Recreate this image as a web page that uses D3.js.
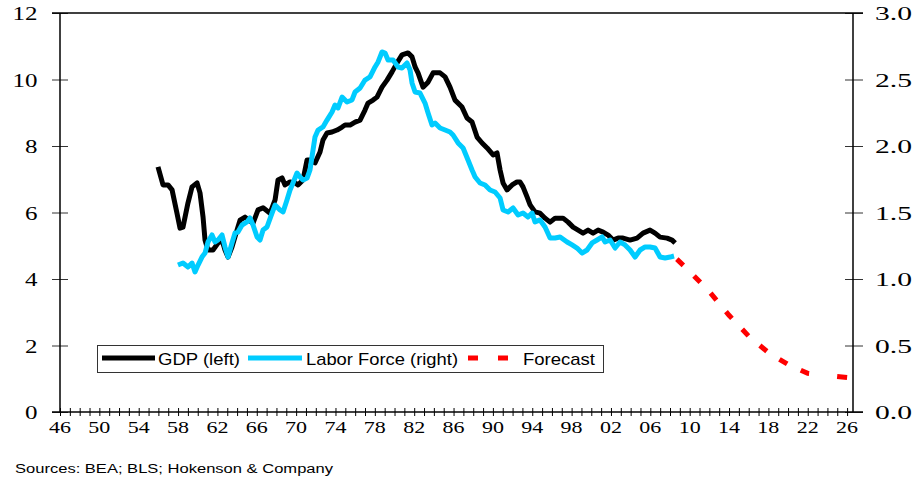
<!DOCTYPE html>
<html>
<head>
<meta charset="utf-8">
<script src="https://cdn.jsdelivr.net/npm/d3@7"></script>
<style>
  body { margin: 0; background: #fff; }
  svg { display: block; }
</style>
</head>
<body>
<div id="chart"></div>
<script>
// values (year, value)
const gdpYears = [1955.96, 1956.47, 1956.98, 1957.39, 1957.89, 1958.2, 1958.5, 1959.01, 1959.42, 1959.93, 1960.23, 1960.54, 1960.74, 1961.04, 1961.55, 1962.06, 1962.47, 1962.77, 1963.08, 1963.48, 1963.99, 1964.3, 1964.81, 1965.62, 1966.13, 1966.64, 1967.35, 1967.86, 1968.16, 1968.57, 1968.87, 1969.38, 1969.89, 1970.19, 1970.7, 1971.11, 1971.41, 1971.92, 1972.43, 1972.73, 1973.14, 1973.65, 1974.16, 1974.67, 1974.97, 1975.48, 1975.99, 1976.5, 1977.0, 1977.31, 1977.82, 1978.22, 1978.73, 1979.24, 1979.75, 1980.26, 1980.76, 1981.37, 1981.78, 1982.09, 1982.39, 1982.9, 1983.41, 1983.92, 1984.63, 1985.14, 1985.64, 1986.15, 1986.86, 1987.37, 1987.88, 1988.39, 1988.9, 1989.41, 1990.02, 1990.42, 1990.73, 1991.03, 1991.44, 1991.95, 1992.45, 1992.76, 1993.06, 1993.47, 1993.78, 1994.28, 1994.79, 1995.3, 1995.81, 1996.32, 1997.13, 1997.64, 1998.15, 1998.66, 1999.16, 1999.67, 2000.18, 2000.69, 2001.2, 2001.71, 2002.21, 2002.72, 2003.23, 2003.94, 2004.65, 2005.26, 2005.97, 2006.48, 2006.99, 2007.7, 2008.21, 2008.52]
const gdpValues = [7.37, 6.83, 6.83, 6.68, 5.98, 5.53, 5.56, 6.29, 6.77, 6.89, 6.59, 5.86, 5.17, 4.87, 4.87, 5.08, 5.17, 4.87, 4.66, 4.96, 5.47, 5.77, 5.86, 5.68, 6.08, 6.14, 5.98, 6.38, 6.98, 7.04, 6.83, 6.92, 6.89, 6.83, 6.98, 7.58, 7.58, 7.49, 7.82, 8.18, 8.39, 8.42, 8.48, 8.57, 8.63, 8.63, 8.72, 8.78, 9.08, 9.29, 9.38, 9.47, 9.77, 9.98, 10.23, 10.5, 10.74, 10.8, 10.68, 10.38, 10.2, 9.77, 9.92, 10.2, 10.2, 10.08, 9.77, 9.38, 9.17, 8.84, 8.72, 8.27, 8.09, 7.94, 7.73, 7.79, 7.28, 6.89, 6.68, 6.83, 6.92, 6.92, 6.77, 6.47, 6.23, 6.02, 5.98, 5.83, 5.71, 5.83, 5.83, 5.71, 5.56, 5.47, 5.38, 5.47, 5.38, 5.47, 5.41, 5.32, 5.17, 5.23, 5.23, 5.17, 5.23, 5.38, 5.47, 5.38, 5.26, 5.23, 5.17, 5.08]

const laborYears = [1957.99, 1958.5, 1959.01, 1959.42, 1959.72, 1960.03, 1960.43, 1960.74, 1961.04, 1961.45, 1961.76, 1962.06, 1962.47, 1962.77, 1963.08, 1963.48, 1963.79, 1964.09, 1964.5, 1965.01, 1965.31, 1965.62, 1966.03, 1966.33, 1966.64, 1967.04, 1967.55, 1967.86, 1968.36, 1968.67, 1969.07, 1969.38, 1969.68, 1970.09, 1970.4, 1970.7, 1971.11, 1971.41, 1971.72, 1971.92, 1972.23, 1972.73, 1973.14, 1973.65, 1973.95, 1974.26, 1974.67, 1975.17, 1975.68, 1975.99, 1976.5, 1977.0, 1977.51, 1978.02, 1978.33, 1978.73, 1979.04, 1979.34, 1979.85, 1980.36, 1980.76, 1981.27, 1981.58, 1981.78, 1982.09, 1982.59, 1983.1, 1983.41, 1983.81, 1984.12, 1984.63, 1985.14, 1985.64, 1985.95, 1986.46, 1986.97, 1987.47, 1987.88, 1988.19, 1988.69, 1989.2, 1989.71, 1990.22, 1990.73, 1991.03, 1991.54, 1992.05, 1992.56, 1993.06, 1993.57, 1993.98, 1994.28, 1994.79, 1995.3, 1995.81, 1996.32, 1996.83, 1997.54, 1998.05, 1998.55, 1999.06, 1999.57, 2000.08, 2000.59, 2001.1, 2001.4, 2001.91, 2002.42, 2002.92, 2003.43, 2003.94, 2004.45, 2004.96, 2005.47, 2005.97, 2006.48, 2006.99, 2007.5, 2008.01, 2008.41]
const laborValues = [1.105, 1.12, 1.09, 1.12, 1.053, 1.105, 1.165, 1.195, 1.278, 1.331, 1.278, 1.293, 1.331, 1.241, 1.165, 1.271, 1.346, 1.353, 1.406, 1.429, 1.459, 1.406, 1.316, 1.293, 1.368, 1.391, 1.496, 1.556, 1.519, 1.504, 1.594, 1.669, 1.722, 1.797, 1.767, 1.744, 1.759, 1.82, 1.97, 2.068, 2.12, 2.143, 2.195, 2.256, 2.308, 2.286, 2.368, 2.331, 2.346, 2.406, 2.436, 2.496, 2.519, 2.594, 2.632, 2.707, 2.699, 2.647, 2.647, 2.594, 2.586, 2.624, 2.571, 2.474, 2.406, 2.398, 2.323, 2.248, 2.158, 2.173, 2.135, 2.12, 2.105, 2.083, 2.023, 1.985, 1.895, 1.82, 1.767, 1.722, 1.707, 1.669, 1.654, 1.609, 1.519, 1.504, 1.534, 1.481, 1.496, 1.466, 1.496, 1.429, 1.444, 1.391, 1.308, 1.308, 1.316, 1.278, 1.256, 1.233, 1.195, 1.218, 1.271, 1.293, 1.316, 1.278, 1.293, 1.233, 1.278, 1.256, 1.218, 1.165, 1.218, 1.241, 1.241, 1.233, 1.165, 1.158, 1.165, 1.173]

const forecastYears = [2008.4, 2010, 2012, 2014, 2016, 2018, 2020, 2022, 2024, 2026]
const forecastValues = [1.17, 1.057, 0.905, 0.727, 0.57, 0.447, 0.357, 0.291, 0.274, 0.26]

const leftTicks = [0, 2, 4, 6, 8, 10, 12]
const rightTicks = [0, 0.5, 1, 1.5, 2, 2.5, 3]
const yearTicks = d3.range(1946, 2027)
const yearLabels = d3.range(1946, 2027, 4)

const legendLabels = ["GDP (left)", "Labor Force (right)", "Forecast"]
const sourceText = "Sources: BEA; BLS; Hokenson & Company"

const width = 918
const height = 480
const margin = { top: 13, bottom: 68, left: 60, right: 65 }
const plotBottom = height - margin.bottom   // 412
const plotRight = width - margin.right      // 853

const svg = d3.select("#chart").append("svg").attr("width", width).attr("height", height)
svg.append("rect").attr("width", width).attr("height", height).attr("fill", "#fff")

const x = d3.scaleLinear().domain([1946, 2026.6]).range([margin.left, plotRight])
const yLeft = d3.scaleLinear().domain([0, 12]).range([plotBottom, margin.top])
const yRight = d3.scaleLinear().domain([0, 3]).range([plotBottom, margin.top])

const serif = "'Liberation Serif', 'Times New Roman', serif"
const sans = "'Liberation Sans', Arial, sans-serif"

// axes (ticks cross the axis lines)
const leftAxis = svg.append("g").attr("transform", `translate(${margin.left},0)`)
    .call(d3.axisLeft(yLeft).tickValues(leftTicks).tickSize(8).tickFormat(""))
leftAxis.select(".domain").remove()
leftAxis.selectAll(".tick line").attr("x1", 8).attr("x2", -8).attr("stroke", "#333")

const rightAxis = svg.append("g").attr("transform", `translate(${plotRight},0)`)
    .call(d3.axisRight(yRight).tickValues(rightTicks).tickSize(10).tickFormat(""))
rightAxis.select(".domain").remove()
rightAxis.selectAll(".tick line").attr("x1", -8).attr("x2", 10).attr("stroke", "#333")

const bottomAxis = svg.append("g").attr("transform", `translate(0,${plotBottom})`)
    .call(d3.axisBottom(x).tickValues(yearTicks).tickSize(4).tickFormat(""))
bottomAxis.select(".domain").remove()
bottomAxis.selectAll(".tick line").attr("y1", -4).attr("y2", 4).attr("stroke", "#000")

// frame
const frame = svg.append("g").attr("stroke", "#000").attr("stroke-width", 1.5)
frame.append("line").attr("x1", 52).attr("x2", plotRight + 10).attr("y1", margin.top).attr("y2", margin.top)
frame.append("line").attr("x1", 52).attr("x2", plotRight + 10).attr("y1", plotBottom).attr("y2", plotBottom)
frame.append("line").attr("x1", margin.left).attr("x2", margin.left).attr("y1", margin.top).attr("y2", plotBottom)
frame.append("line").attr("x1", plotRight).attr("x2", plotRight).attr("y1", margin.top).attr("y2", plotBottom)

// tick labels (the source font is drawn wide, so stretch with textLength)
const labels = svg.append("g").attr("font-family", serif).attr("fill", "#000")
leftTicks.forEach(t => {
    const s = String(t), len = 12.5 * s.length
    labels.append("text").attr("x", 37.5 - len).attr("y", yLeft(t) + 7)
        .attr("font-size", 19).attr("textLength", len).attr("lengthAdjust", "spacingAndGlyphs").text(s)
})
rightTicks.forEach(t => {
    labels.append("text").attr("x", 875).attr("y", yRight(t) + 7)
        .attr("font-size", 19).attr("textLength", 37).attr("lengthAdjust", "spacingAndGlyphs").text(t.toFixed(1))
})
yearLabels.forEach(t => {
    labels.append("text").attr("x", x(t) - 11).attr("y", 433)
        .attr("font-size", 16).attr("textLength", 22).attr("lengthAdjust", "spacingAndGlyphs").text(String(t).slice(2))
})

// series
const gdp = gdpYears.map((d, i) => [d, gdpValues[i]])
const labor = laborYears.map((d, i) => [d, laborValues[i]])
const forecast = forecastYears.map((d, i) => [d, forecastValues[i]])

const lineLeft = d3.line().x(d => x(d[0])).y(d => yLeft(d[1]))
const lineRight = d3.line().x(d => x(d[0])).y(d => yRight(d[1]))

svg.append("path").datum(gdp).attr("d", lineLeft)
    .attr("fill", "none").attr("stroke", "#000").attr("stroke-width", 5).attr("stroke-linejoin", "round")
svg.append("path").datum(labor).attr("d", lineRight)
    .attr("fill", "none").attr("stroke", "#00CCFF").attr("stroke-width", 5).attr("stroke-linejoin", "round")
const fcPath = svg.append("path").datum(forecast).attr("d", lineRight)
    .attr("fill", "none").attr("stroke", "#FF0000").attr("stroke-width", 5)

// dash pattern: regular dashes, with the last dash sitting on the line's end (as Excel draws it)
const fcLen = fcPath.node().getTotalLength()
const dash = 9, period = 24, lead = 4
const nDash = Math.floor((fcLen - lead - dash - 30) / period) + 1
const pattern = [0, lead]
for (let i = 0; i < nDash; i++) pattern.push(dash, period - dash)
pattern.pop()
const used = lead + (nDash - 1) * period + dash
pattern.push(Math.max(fcLen - used - dash - 1, 0), dash + 2, 50)
fcPath.attr("stroke-dasharray", pattern.join(","))

// legend
const legend = svg.append("g")
legend.append("rect").attr("x", 97.5).attr("y", 345.5).attr("width", 506).attr("height", 27)
    .attr("fill", "#fff").attr("stroke", "#333").attr("stroke-width", 1)
legend.append("line").attr("x1", 102).attr("x2", 155).attr("y1", 358).attr("y2", 358)
    .attr("stroke", "#000").attr("stroke-width", 5)
legend.append("line").attr("x1", 248).attr("x2", 302).attr("y1", 358).attr("y2", 358)
    .attr("stroke", "#00CCFF").attr("stroke-width", 5)
legend.append("line").attr("x1", 468).attr("x2", 508).attr("y1", 358).attr("y2", 358)
    .attr("stroke", "#FF0000").attr("stroke-width", 5).attr("stroke-dasharray", "10,20")
const legendX = [158, 306, 523]
const legendLen = [82, 152, 72]
legendLabels.forEach((l, i) => {
    legend.append("text").attr("x", legendX[i]).attr("y", 365)
        .attr("font-family", sans).attr("font-size", 17)
        .attr("textLength", legendLen[i]).attr("lengthAdjust", "spacingAndGlyphs").text(l)
})

// source note
svg.append("text").attr("x", 15).attr("y", 473)
    .attr("font-family", sans).attr("font-size", 12)
    .attr("textLength", 318).attr("lengthAdjust", "spacingAndGlyphs").text(sourceText)
</script>
</body>
</html>
